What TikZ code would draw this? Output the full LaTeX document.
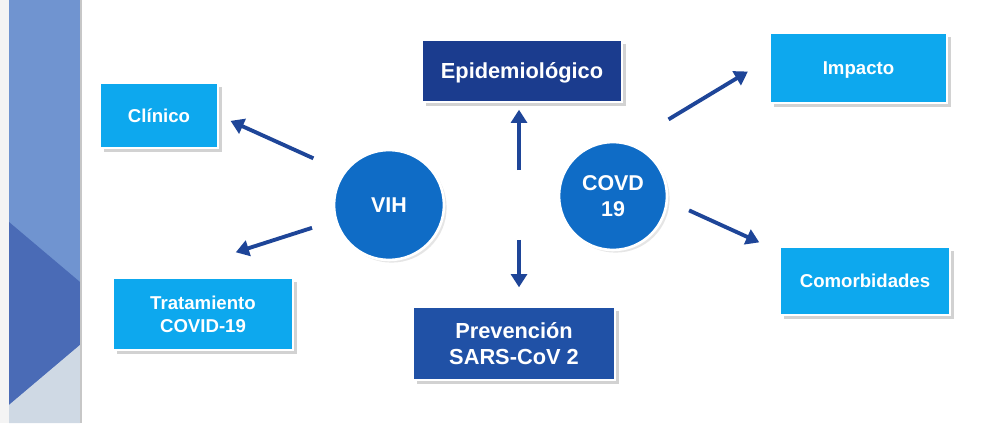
\documentclass[tikz,border=0pt]{standalone}
\usepackage{fontspec}
\setmainfont{Liberation Sans}
\usetikzlibrary{arrows.meta,shadows,positioning}
\definecolor{stripetop}{HTML}{7094D0}
\definecolor{stripemid}{HTML}{4A6BB6}
\definecolor{stripelow}{HTML}{CFD9E4}
\definecolor{pagegray}{HTML}{F4F4F4}
\definecolor{skyblue}{HTML}{0DA8EE}
\definecolor{navy}{HTML}{1B3C8E}
\definecolor{royal}{HTML}{2051A6}
\definecolor{hubblue}{HTML}{0F6CC6}
\definecolor{arrowblue}{HTML}{1E4598}
\tikzset{lightbox/.style={rectangle, fill=skyblue, draw=white, line width=.8pt, text=white, font=\fontsize{10.6}{13}\selectfont\bfseries, align=center, drop shadow={shadow xshift=2.5pt, shadow yshift=-2.5pt, opacity=.35}}, darkbox/.style={lightbox, font=\fontsize{12.4}{15}\selectfont\bfseries}, hub/.style={circle, fill=hubblue, draw=white, line width=1.5pt, minimum size=2.2cm, text=white, font=\fontsize{12.2}{15}\selectfont\bfseries, align=center, drop shadow={shadow xshift=1.5pt, shadow yshift=-1.5pt, opacity=.2}}, link/.style={-{Triangle[length=7.5pt,width=9pt]}, line width=2.2pt, color=arrowblue}}

\begin{document}
\begin{tikzpicture}[x=0.02cm,y=-0.02cm]
\useasboundingbox (0,0) rectangle (1000,423);
\fill[white] (0,0) rectangle (1000,423); \fill[pagegray] (0,0) rectangle (9,423);
% banda lateral
\fill[stripetop] (9,0) rectangle (80,423);
\fill[stripemid] (9,222)--(80,282)--(80,345)--(9,405)--cycle;
\fill[stripelow] (9,405)--(80,345)--(80,423)--(9,423)--cycle;
\fill[black!22] (80,0) rectangle (82,423);
% nodos
\node[hub] (vih) at (389,205) {VIH};
\node[hub, minimum size=2.16cm] (covd) at (613,196) {COVD\\19};
\node[lightbox, minimum width=2.36cm, minimum height=1.3cm] (clinico) at (159,115.5) {Clínico};
\node[lightbox, minimum width=3.6cm, minimum height=1.44cm] (trat) at (203,314) {Tratamiento\\COVID-19};
\node[darkbox, fill=navy, minimum width=4cm, minimum height=1.24cm, text depth=0pt] (epi) at (522,71) {Epidemiológico};
\node[darkbox, fill=royal, minimum width=4.04cm, minimum height=1.46cm] (prev) at (514,343.5) {Prevención\\SARS-CoV 2};
\node[lightbox, minimum width=3.54cm, minimum height=1.4cm, text depth=0pt] (impacto) at (858.5,68) {Impacto};
\node[lightbox, minimum width=3.4cm, minimum height=1.36cm] (comor) at (865,281) {Comorbidades};
\coordinate (mid) at (519,204);
% flechas
\draw[link, shorten <=.66cm, shorten >=.26cm] (vih.144) -- (clinico.east);
\draw[link, shorten <=.48cm, shorten >=1.64cm] (vih.196) -- (trat.141);
\draw[link, shorten <=.68cm, shorten >=.14cm] (mid) -- (mid |- epi.south);
\draw[link, shorten <=.72cm, shorten >=.38cm] (mid) -- (mid |- prev.north);
\draw[link, shorten <=.92cm, shorten >=.5cm] (covd.73) -- (impacto.174);
\draw[link, shorten <=.46cm, shorten >=.44cm] (covd.-5) -- (comor.161);
\end{tikzpicture}
\end{document}
